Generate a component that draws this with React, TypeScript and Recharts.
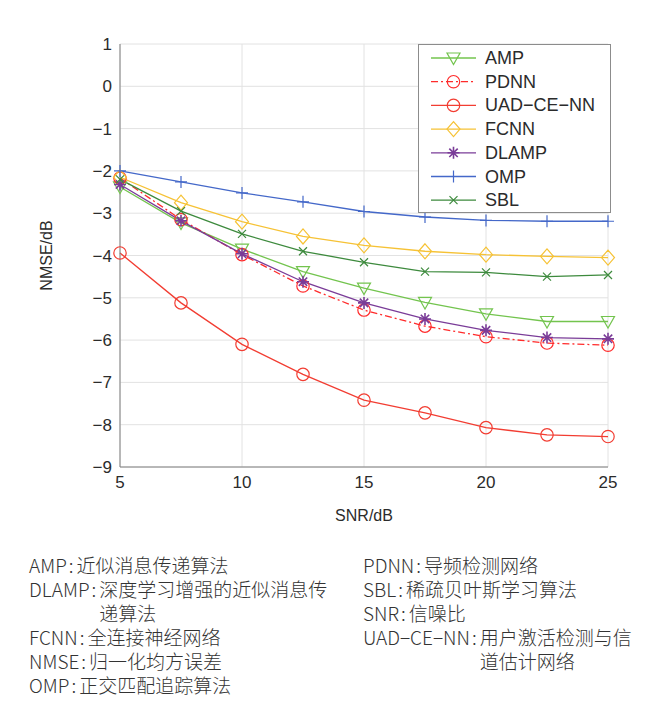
import React from "react";
import {
  LineChart,
  Line,
  XAxis,
  YAxis,
  CartesianGrid,
  Legend,
} from "recharts";

// SNR (dB) sample points
const snr = [5, 7.5, 10, 12.5, 15, 17.5, 20, 22.5, 25];

// NMSE (dB) per method
const amp = [-2.38, -3.23, -3.85, -4.38, -4.77, -5.11, -5.38, -5.56, -5.56];
const pdnn = [-2.17, -3.15, -3.98, -4.72, -5.29, -5.67, -5.92, -6.07, -6.12];
const uad = [-3.94, -5.12, -6.1, -6.81, -7.42, -7.72, -8.07, -8.24, -8.28];
const fcnn = [-2.15, -2.75, -3.2, -3.55, -3.76, -3.9, -3.98, -4.02, -4.05];
const dlamp = [-2.32, -3.18, -3.96, -4.62, -5.12, -5.5, -5.77, -5.94, -5.97];
const omp = [-2.0, -2.26, -2.52, -2.73, -2.96, -3.09, -3.17, -3.19, -3.19];
const sbl = [-2.2, -2.95, -3.49, -3.9, -4.16, -4.38, -4.4, -4.5, -4.46];

const xTicks = [5, 10, 15, 20, 25];
const yTicks = [-9, -8, -7, -6, -5, -4, -3, -2, -1, 0, 1];

const notesLeft = [
  { abbr: "AMP", lines: ["近似消息传递算法"] },
  { abbr: "DLAMP", lines: ["深度学习增强的近似消息传", "递算法"] },
  { abbr: "FCNN", lines: ["全连接神经网络"] },
  { abbr: "NMSE", lines: ["归一化均方误差"] },
  { abbr: "OMP", lines: ["正交匹配追踪算法"] },
];
const notesRight = [
  { abbr: "PDNN", lines: ["导频检测网络"] },
  { abbr: "SBL", lines: ["稀疏贝叶斯学习算法"] },
  { abbr: "SNR", lines: ["信噪比"] },
  { abbr: "UAD−CE−NN", lines: ["用户激活检测与信", "道估计网络"] },
];

const series = [
  { key: "amp", name: "AMP", values: amp, color: "#73c44e", shape: "triangle", dash: undefined },
  { key: "pdnn", name: "PDNN", values: pdnn, color: "#ff2b2b", shape: "circle", dash: "7 3 2 3" },
  { key: "uad", name: "UAD−CE−NN", values: uad, color: "#f23d32", shape: "circle", dash: undefined },
  { key: "fcnn", name: "FCNN", values: fcnn, color: "#f6c235", shape: "diamond", dash: undefined },
  { key: "dlamp", name: "DLAMP", values: dlamp, color: "#7a3c98", shape: "star", dash: undefined },
  { key: "omp", name: "OMP", values: omp, color: "#4468c9", shape: "plus", dash: undefined },
  { key: "sbl", name: "SBL", values: sbl, color: "#3d8a3d", shape: "cross", dash: undefined },
];

const data = snr.map((x, i) => {
  const row: Record<string, number> = { snr: x };
  series.forEach((s) => (row[s.key] = s.values[i]));
  return row;
});

const textColor = "#2b2b2b";
const tickFont = { fontSize: 17, fill: textColor, fontFamily: "'Liberation Sans', Arial, sans-serif" };
const fmt = (v: number) => String(v).replace("-", "\u2212");

// vertical grid only at the labelled x ticks
const gridX = ({ xAxis, offset }: any) => {
  const sc = xAxis && xAxis.scale;
  const lo = xTicks[0];
  const hi = xTicks[xTicks.length - 1];
  return xTicks.map((t) =>
    typeof sc === "function" ? sc(t) : offset.left + ((t - lo) / (hi - lo)) * offset.width
  );
};

function Marker({ shape, cx, cy, color }: { shape: string; cx?: number; cy?: number; color: string }) {
  if (cx == null || cy == null) return null;
  const st = { fill: "none", stroke: color, strokeWidth: 1.2 };
  switch (shape) {
    case "triangle":
      return <polygon points={`${cx - 6.5},${cy - 5} ${cx + 6.5},${cy - 5} ${cx},${cy + 6.5}`} {...st} />;
    case "circle":
      return <circle cx={cx} cy={cy} r={6.2} {...st} />;
    case "diamond":
      return <polygon points={`${cx},${cy - 7.5} ${cx + 6.5},${cy} ${cx},${cy + 7.5} ${cx - 6.5},${cy}`} {...st} />;
    case "star":
      return (
        <path
          d={`M${cx} ${cy - 6}V${cy + 6}M${cx - 6} ${cy}H${cx + 6}M${cx - 4.2} ${cy - 4.2}L${cx + 4.2} ${cy + 4.2}M${cx - 4.2} ${cy + 4.2}L${cx + 4.2} ${cy - 4.2}`}
          {...st}
          strokeWidth={1.6}
        />
      );
    case "plus":
      return <path d={`M${cx} ${cy - 6}V${cy + 6}M${cx - 6} ${cy}H${cx + 6}`} {...st} />;
    case "cross":
      return <path d={`M${cx - 4} ${cy - 4}L${cx + 4} ${cy + 4}M${cx - 4} ${cy + 4}L${cx + 4} ${cy - 4}`} {...st} />;
    default:
      return null;
  }
}

function LegendBox() {
  const rowH = 23.7;
  return (
    <div style={{ width: 193, height: 169, border: "1px solid #8c8c8c", background: "#fff", boxSizing: "border-box" }}>
      <svg width={191} height={167}>
        {series.map((s, i) => {
          const y = 13 + i * rowH;
          return (
            <g key={s.key}>
              <line x1={12} x2={57} y1={y} y2={y} stroke={s.color} strokeWidth={1.3} strokeDasharray={s.dash} />
              <Marker shape={s.shape} cx={34.5} cy={y} color={s.color} />
              <text x={66} y={y} dominantBaseline="central" style={{ ...tickFont, fontSize: 18 }}>
                {s.name}
              </text>
            </g>
          );
        })}
      </svg>
    </div>
  );
}

function Notes({ items, left }: { items: { abbr: string; lines: string[] }[]; left: number }) {
  return (
    <div style={{ position: "absolute", left, top: 553 }}>
      {items.map((n) => (
        <div key={n.abbr} style={{ display: "flex", lineHeight: "24px" }}>
          <span>
            {n.abbr}
            <span style={{ margin: "0 3px 0 2px" }}>:</span>
          </span>
          <span>
            {n.lines.map((l, i) => (
              <div key={i}>{l}</div>
            ))}
          </span>
        </div>
      ))}
    </div>
  );
}

export default function App() {
  return (
    <div
      style={{
        position: "relative",
        width: 661,
        height: 705,
        margin: "-8px 0 0 -8px",
        overflow: "hidden",
        background: "#fff",
      }}
    >
      <div
        style={{
          position: "absolute",
          left: 7,
          top: 6,
          width: 700,
          height: 720,
          borderLeft: "1px solid #c4c4c4",
          borderTop: "1px solid #c4c4c4",
        }}
      />
      <div style={{ position: "absolute", left: 0, top: 0 }}>
        <LineChart width={661} height={540} data={data} margin={{ top: 44, right: 53, left: 0, bottom: 13 }}>
          <CartesianGrid stroke="#e2e2e2" verticalCoordinatesGenerator={gridX} />
          <XAxis
            dataKey="snr"
            type="number"
            domain={[5, 25]}
            ticks={xTicks}
            tick={tickFont}
            tickLine={false}
            axisLine={{ stroke: "#7f7f7f" }}
            tickMargin={3}
            height={60}
            label={{ value: "SNR/dB", position: "insideBottom", offset: 6, style: { ...tickFont, fontSize: 16 } }}
          />
          <YAxis
            type="number"
            domain={[-9, 1]}
            ticks={yTicks}
            tick={tickFont}
            tickFormatter={fmt}
            tickLine={false}
            axisLine={{ stroke: "#7f7f7f" }}
            width={120}
            label={{
              value: "NMSE/dB",
              angle: -90,
              position: "insideLeft",
              offset: 46,
              style: { ...tickFont, fontSize: 16, textAnchor: "middle" },
            }}
          />
          <Legend
            layout="vertical"
            align="center"
            verticalAlign="middle"
            wrapperStyle={{ left: 418, top: 44, width: 193, height: 169 }}
            content={() => <LegendBox />}
          />
          {series.map((s) => (
            <Line
              key={s.key}
              dataKey={s.key}
              name={s.name}
              stroke={s.color}
              strokeWidth={1.3}
              strokeDasharray={s.dash}
              isAnimationActive={false}
              activeDot={false}
              dot={(p: any) => (
                <Marker key={`${s.key}-${p.index}`} shape={s.shape} cx={p.cx} cy={p.cy} color={s.color} />
              )}
            />
          ))}
        </LineChart>
      </div>
      <div
        style={{
          fontFamily: "'Noto Sans CJK SC', 'Noto Sans', sans-serif",
          fontWeight: 300,
          fontSize: 19,
          color: "#333",
        }}
      >
        <Notes items={notesLeft} left={29} />
        <Notes items={notesRight} left={363} />
      </div>
    </div>
  );
}
